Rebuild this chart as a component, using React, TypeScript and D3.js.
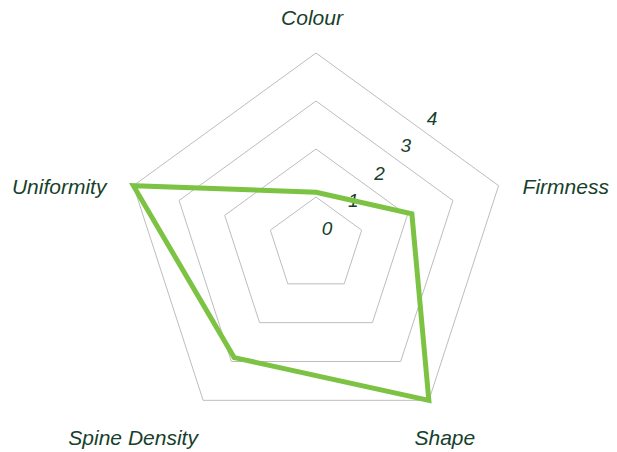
import React, { useEffect, useRef } from 'react';
import * as d3 from 'd3';

// categories clockwise from the top
const axes = ['Colour', 'Firmness', 'Shape', 'Spine Density', 'Uniformity'];
const scores = [1.1, 2.1, 4, 2.9, 4];
const ringValues = [1, 2, 3, 4];
const tickValues = [0, 1, 2, 3, 4];

const width = 617;
const height = 452;

const App: React.FC = () => {
  const svgRef = useRef<SVGSVGElement>(null);

  useEffect(() => {
    document.body.style.margin = '0';
    if (!svgRef.current) return;

    const svg = d3.select(svgRef.current);
    svg.selectAll('*').remove();

    const cx = 316;
    const cy = 245;
    const r = d3.scaleLinear().domain([0, 4]).range([0, 192]);
    const ang = (i: number) => (i * 2 * Math.PI) / axes.length;

    const pt = (i: number, v: number): [number, number] => [
      cx + r(v) * Math.sin(ang(i)),
      cy - r(v) * Math.cos(ang(i)),
    ];

    const line = d3.line<[number, number]>().curve(d3.curveLinearClosed);

    const fontFamily = '"Liberation Sans", Arial, Helvetica, sans-serif';
    const textColor = '#173f2c';

    // grid rings
    svg.append('g')
      .selectAll('path')
      .data(ringValues)
      .join('path')
      .attr('d', v => line(axes.map((_, i) => pt(i, v))))
      .attr('fill', 'none')
      .attr('stroke', '#bdbdbd')
      .attr('stroke-width', 1);

    // tick labels run diagonally up-right from the centre
    const tickX = d3.scaleLinear().domain([0, 4]).range([cx + 11, cx + 116]);
    const tickY = d3.scaleLinear().domain([0, 4]).range([cy - 17, cy - 127]);
    svg.append('g')
      .selectAll('text')
      .data(tickValues)
      .join('text')
      .attr('x', v => tickX(v))
      .attr('y', v => tickY(v))
      .attr('dy', '0.35em')
      .attr('text-anchor', 'middle')
      .attr('font-family', fontFamily)
      .attr('font-style', 'italic')
      .attr('font-size', 19)
      .attr('fill', textColor)
      .text(v => String(v));

    // data polygon
    svg.append('path')
      .attr('d', line(scores.map((v, i) => pt(i, v))))
      .attr('fill', 'none')
      .attr('stroke', '#7cc243')
      .attr('stroke-width', 5)
      .attr('stroke-linejoin', 'miter');

    // axis labels, placed off the outer vertex
    const labelLayout: { anchor: string; dx: number; dy: number }[] = [
      { anchor: 'middle', dx: -4, dy: -28 },
      { anchor: 'start', dx: 24, dy: 8 },
      { anchor: 'middle', dx: 16, dy: 45 },
      { anchor: 'middle', dx: -70, dy: 45 },
      { anchor: 'end', dx: -27, dy: 8 },
    ];
    svg.append('g')
      .selectAll('text')
      .data(axes)
      .join('text')
      .attr('x', (_, i) => pt(i, 4)[0] + labelLayout[i].dx)
      .attr('y', (_, i) => pt(i, 4)[1] + labelLayout[i].dy)
      .attr('text-anchor', (_, i) => labelLayout[i].anchor)
      .attr('font-family', fontFamily)
      .attr('font-style', 'italic')
      .attr('font-size', 21)
      .attr('fill', textColor)
      .text(d => d);
  }, []);

  return (
    <div style={{ width, height }}>
      <svg ref={svgRef} width={width} height={height} style={{ display: 'block', background: '#fff' }} />
    </div>
  );
};

export default App;
